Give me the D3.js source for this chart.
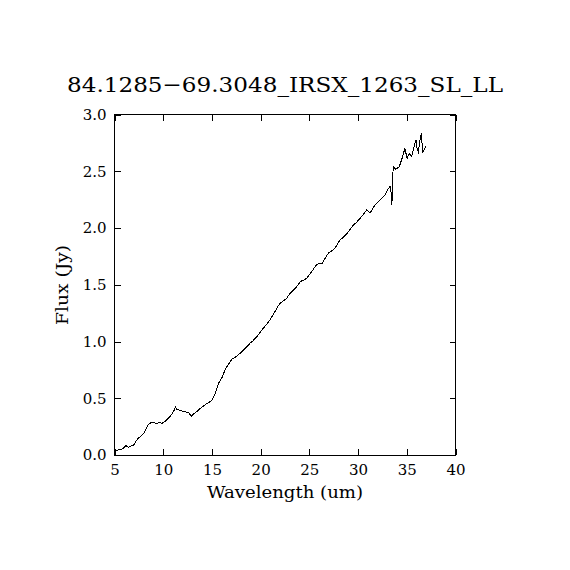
<!DOCTYPE html>
<html>
<head>
<meta charset="utf-8">
<script src="https://cdn.jsdelivr.net/npm/d3@7"></script>
<style>
  body { margin: 0; background: #fff; }
  text { font-family: "DejaVu Serif", "Liberation Serif", serif; fill: #000; }
</style>
</head>
<body>
<div id="chart"></div>
<script>
const title = '84.1285\u221269.3048_IRSX_1263_SL_LL';
const xLabel = 'Wavelength (um)';
const yLabel = 'Flux (Jy)';
const xTicks = [5, 10, 15, 20, 25, 30, 35, 40];
const yTicks = [0.0, 0.5, 1.0, 1.5, 2.0, 2.5, 3.0];

// spectrum
const wave = [5.0, 5.4, 5.77, 6.0, 6.18, 6.3, 6.45, 6.7, 6.97, 7.2, 7.41, 7.7, 8.0, 8.2, 8.44, 8.65, 8.85, 9.1, 9.36, 9.6,
  9.88, 10.1, 10.39, 10.65, 10.9, 11.1, 11.24, 11.41, 11.7, 11.93, 12.3, 12.6, 12.9, 13.2, 13.5, 13.8, 14.1, 14.5, 14.8,
  15.0, 15.35, 15.55, 15.76, 16.0, 16.34, 16.7, 17.03, 17.35, 17.7, 18.0, 18.22, 18.6, 18.9, 19.2, 19.6, 19.9, 20.27,
  20.6, 20.96, 21.2, 21.47, 21.7, 21.99, 22.3, 22.67, 22.9, 23.19, 23.5, 23.86, 24.04, 24.4, 24.73, 25.0, 25.24, 25.58,
  25.75, 26.0, 26.27, 26.6, 26.94, 27.3, 27.63, 27.9, 28.14, 28.5, 28.83, 29.2, 29.51, 29.85, 30.2, 30.55, 30.88, 31.05,
  31.22, 31.5, 31.74, 32.0, 32.25, 32.5, 32.76, 33.0, 33.28, 33.38, 33.45, 33.51, 33.6, 33.88, 34.23, 34.57, 34.8, 35.04,
  35.25, 35.5, 35.74, 35.94, 36.08, 36.18, 36.36, 36.49, 36.63, 36.77, 36.94];
const flux = [0.035, 0.045, 0.053, 0.065, 0.088, 0.072, 0.068, 0.078, 0.088, 0.12, 0.147, 0.165, 0.19, 0.225, 0.264, 0.28, 0.288, 0.283, 0.279, 0.285,
  0.279, 0.29, 0.314, 0.335, 0.36, 0.39, 0.425, 0.40, 0.395, 0.388, 0.38, 0.373, 0.343, 0.367, 0.385, 0.41, 0.43, 0.455, 0.47,
  0.485, 0.543, 0.6, 0.646, 0.675, 0.749, 0.8, 0.843, 0.86, 0.881, 0.905, 0.925, 0.955, 0.984, 1.005, 1.042, 1.075, 1.116,
  1.15, 1.189, 1.225, 1.263, 1.3, 1.337, 1.355, 1.38, 1.41, 1.439, 1.465, 1.498, 1.527, 1.54, 1.557, 1.59, 1.615, 1.659,
  1.674, 1.69, 1.683, 1.73, 1.777, 1.8, 1.821, 1.86, 1.894, 1.92, 1.947, 1.99, 2.026, 2.05, 2.085, 2.12, 2.159, 2.145,
  2.13, 2.17, 2.203, 2.225, 2.247, 2.27, 2.291, 2.33, 2.37, 2.32, 2.203, 2.26, 2.54, 2.517, 2.54, 2.628, 2.70, 2.614,
  2.658, 2.628, 2.716, 2.775, 2.69, 2.67, 2.775, 2.834, 2.67, 2.687, 2.72];

const width = 570, height = 570;
const margin = {left: 114.5, right: 114.5, top: 114.5, bottom: 115};

const svg = d3.select('#chart').append('svg')
  .attr('width', width)
  .attr('height', height);

const x = d3.scaleLinear().domain([5, 40]).range([margin.left, width - margin.right]);
const y = d3.scaleLinear().domain([0, 3]).range([height - margin.bottom, margin.top]);

const tickLen = 6;

// frame
svg.append('rect')
  .attr('x', x(5)).attr('y', y(3))
  .attr('width', x(40) - x(5)).attr('height', y(0) - y(3))
  .attr('fill', 'none').attr('stroke', '#000').attr('stroke-width', 1)
  .attr('shape-rendering', 'crispEdges');

// axes with inward ticks on all four sides
svg.append('g').attr('transform', `translate(0,${y(0)})`)
  .call(d3.axisBottom(x).tickValues(xTicks).tickSizeInner(-tickLen).tickSizeOuter(0).tickPadding(9).tickFormat(d3.format('d')))
  .call(g => g.select('.domain').remove())
  .call(g => g.selectAll('text').style('font-size', '15px'));
svg.append('g').attr('transform', `translate(0,${y(3)})`)
  .call(d3.axisTop(x).tickValues(xTicks).tickSizeInner(-tickLen).tickSizeOuter(0).tickFormat(''))
  .call(g => g.select('.domain').remove());
svg.append('g').attr('transform', `translate(${x(5)},0)`)
  .call(d3.axisLeft(y).tickValues(yTicks).tickSizeInner(-tickLen).tickSizeOuter(0).tickPadding(8).tickFormat(d3.format('.1f')))
  .call(g => g.select('.domain').remove())
  .call(g => g.selectAll('text').style('font-size', '15px'));
svg.append('g').attr('transform', `translate(${x(40)},0)`)
  .call(d3.axisRight(y).tickValues(yTicks).tickSizeInner(-tickLen).tickSizeOuter(0).tickFormat(''))
  .call(g => g.select('.domain').remove());

svg.selectAll('.tick line').attr('stroke', '#000').attr('shape-rendering', 'crispEdges');

// spectrum
const pts = wave.map((w, i) => [w, flux[i]]);
svg.append('path')
  .datum(pts)
  .attr('fill', 'none')
  .attr('stroke', '#000')
  .attr('stroke-width', 1)
  .attr('shape-rendering', 'crispEdges')
  .attr('d', d3.line().x(d => x(d[0])).y(d => y(d[1])));

// labels
svg.append('text')
  .attr('x', 285).attr('y', 92)
  .attr('text-anchor', 'middle')
  .attr('textLength', 436).attr('lengthAdjust', 'spacingAndGlyphs')
  .style('font-size', '21px')
  .text(title);

svg.append('text')
  .attr('x', 285).attr('y', 498)
  .attr('text-anchor', 'middle')
  .attr('textLength', 156).attr('lengthAdjust', 'spacingAndGlyphs')
  .style('font-size', '16px')
  .text(xLabel);

svg.append('text')
  .attr('transform', 'translate(68,285) rotate(-90)')
  .attr('text-anchor', 'middle')
  .attr('textLength', 80).attr('lengthAdjust', 'spacingAndGlyphs')
  .style('font-size', '16px')
  .text(yLabel);
</script>
</body>
</html>
